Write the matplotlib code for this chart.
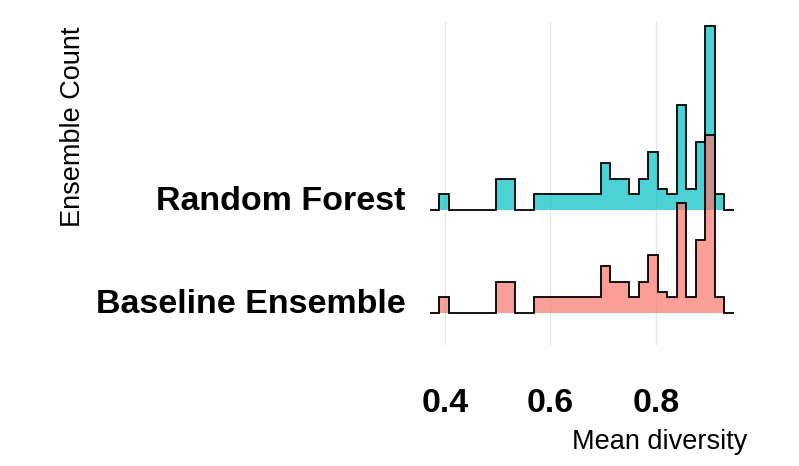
import numpy as np
import matplotlib
matplotlib.use("Agg")
import matplotlib.pyplot as plt

# ---- data ----
groups = ["Baseline Ensemble", "Random Forest"]
bin_start = 0.3706
bin_width = 0.01805
counts_rf = [0, 3, 0, 0, 0, 0, 0, 6, 6, 0, 0, 3, 3, 3, 3, 3, 3, 3,
             9, 6, 6, 3, 6, 11, 4, 3, 20, 4, 13, 35, 3, 0]
counts_base = [0, 3, 0, 0, 0, 0, 0, 6, 6, 0, 0, 3, 3, 3, 3, 3, 3, 3,
               9, 6, 6, 3, 6, 11, 4, 3, 21, 3, 14, 34, 3, 0]
xticks = [0.4, 0.6, 0.8]
xtick_labels = ["0.4", "0.6", "0.8"]
colors = {"Random Forest": "#00BFC4", "Baseline Ensemble": "#F8766D"}

plt.rcParams['font.family'] = ['Liberation Sans', 'DejaVu Sans']

W, H = 799, 466
fig = plt.figure(figsize=(W / 100, H / 100), dpi=100)
left, right, top, bottom = 415, 749, 22, 345
ax = fig.add_axes([left / W, 1 - bottom / H, (right - left) / W, (bottom - top) / H])

edges = bin_start + bin_width * np.arange(len(counts_rf) + 1)
scale = 0.0509

series = {"Random Forest": counts_rf, "Baseline Ensemble": counts_base}
# draw top ridge first so lower ridge overlays
for g in ["Random Forest", "Baseline Ensemble"]:
    off = groups.index(g)
    vals = off + np.array(series[g]) * scale
    ax.stairs(vals, edges, baseline=off, fill=True, color=colors[g], alpha=0.7, lw=0, zorder=2)
    ax.stairs(vals, edges, baseline=None, fill=False, color="black", lw=1.3, zorder=3)

ax.set_xlim(0.3430, 0.9771)
ax.set_ylim(-0.3107, 2.825)

ax.set_xticks(xticks)
ax.set_xticklabels(xtick_labels, fontsize=24.5, fontweight="bold")
ax.set_yticks(range(len(groups)))
ax.set_yticklabels(groups, fontsize=24.5, fontweight="bold", va="baseline")
ax.tick_params(axis="x", length=0, pad=31)
ax.tick_params(axis="y", length=0, pad=7)

for xv in xticks:
    ax.axvline(xv, color="#e6e6e6", lw=0.9, zorder=0)

for s in ax.spines.values():
    s.set_visible(False)

ax.set_ylabel("Ensemble Count", fontsize=19.5, loc="top")
ax.yaxis.set_label_coords(-0.985, 0.9845)
ax.set_xlabel("Mean diversity", fontsize=19.5, loc="right")
ax.xaxis.set_label_coords(0.995, -0.26)

fig.savefig("out.png", dpi=100)
